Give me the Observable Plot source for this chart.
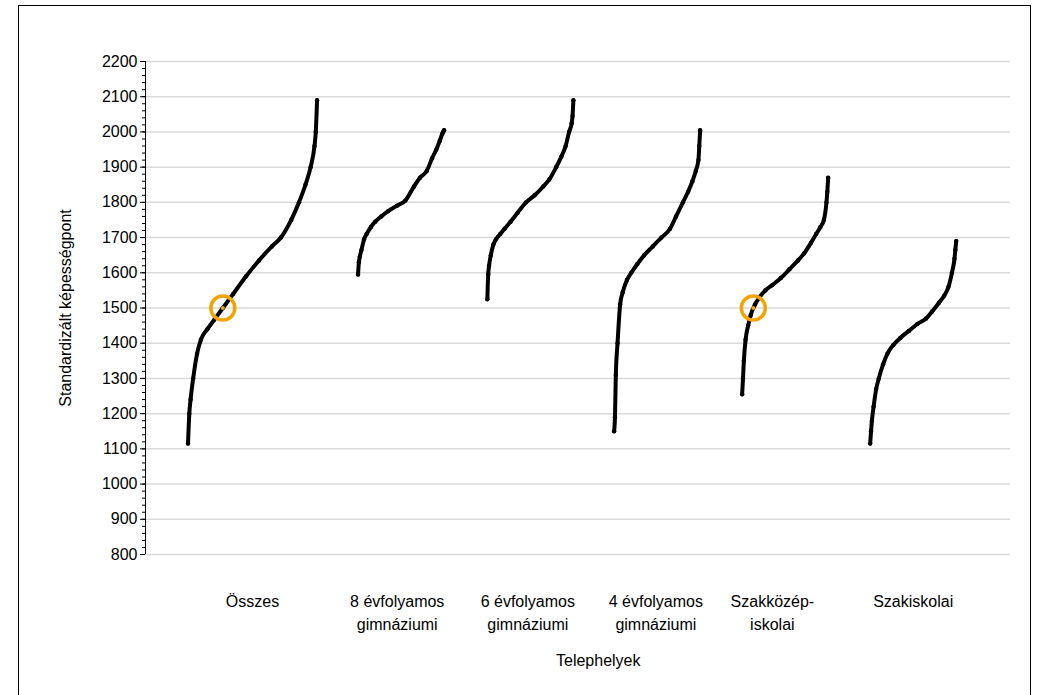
<!DOCTYPE html>
<html>
<head>
<meta charset="utf-8">
<script src="https://cdn.jsdelivr.net/npm/d3@7"></script>
<script src="https://cdn.jsdelivr.net/npm/@observablehq/plot@0.6"></script>
<style>
  body { margin: 0; background: #fff; font-family: "Liberation Sans", Arial, sans-serif; }
  #frame { position: absolute; left: 18px; top: 5px; width: 1011px; height: 700px; border: 1px solid #000; border-bottom: none; }
</style>
</head>
<body>
<div id="frame"><div id="chart"></div></div>
<script>
const categories = ["Összes", "8 évfolyamos\ngimnáziumi", "6 évfolyamos\ngimnáziumi", "4 évfolyamos\ngimnáziumi", "Szakközép-\niskolai", "Szakiskolai"];
// rank share of each read point within a group
const fractions = [0, .01, .02, .04, .07, .1, .15, .2, .27, .35, .45, .55, .65, .72, .8, .86, .91, .95, .98, .99, 1];
const osszes = [1115, 1200, 1240, 1300, 1370, 1410, 1440, 1465, 1500, 1540, 1590, 1635, 1675, 1700, 1750, 1800, 1850, 1900, 1960, 2000, 2090];
const gimn8 = [1595, 1630, 1645, 1665, 1695, 1710, 1730, 1745, 1760, 1775, 1790, 1805, 1845, 1870, 1890, 1925, 1950, 1975, 1995, 2000, 2005];
const gimn6 = [1525, 1595, 1620, 1650, 1680, 1695, 1710, 1725, 1745, 1770, 1800, 1820, 1845, 1865, 1900, 1930, 1960, 2000, 2025, 2045, 2090];
const gimn4 = [1150, 1190, 1310, 1400, 1510, 1545, 1580, 1600, 1625, 1650, 1675, 1700, 1725, 1760, 1800, 1830, 1860, 1890, 1920, 1960, 2005];
const szakkozep = [1255, 1300, 1350, 1410, 1450, 1480, 1510, 1530, 1550, 1565, 1585, 1610, 1635, 1655, 1685, 1710, 1730, 1750, 1800, 1830, 1870];
const szakiskola = [1115, 1150, 1180, 1220, 1270, 1300, 1340, 1370, 1395, 1415, 1435, 1455, 1470, 1490, 1515, 1535, 1560, 1600, 1640, 1665, 1690];
const series = [osszes, gimn8, gimn6, gimn4, szakkozep, szakiskola];
// marked 1500-point positions: [group, rank share, value]
const markers = [[0, 0.27, 1500], [4, 0.13, 1500]];

const centers = [0, 1.16, 2.17, 3.16, 4.16, 5.16];
const halfWidths = [0.504, 0.336, 0.336, 0.336, 0.336, 0.336];
const labelPos = [0, 1.13, 2.15, 3.15, 4.06, 5.16];
const px = (g, f) => centers[g] - halfWidths[g] + 2 * halfWidths[g] * f;
const xMin = -0.836;

const points = series.flatMap((vals, g) => vals.map((v, i) => ({g, x: px(g, fractions[i]), y: v})));
const marks = markers.map(([g, f, v]) => ({x: px(g, f), y: v}));

const chart = Plot.plot({
  width: 1010,
  height: 690,
  marginLeft: 126,
  marginTop: 55,
  marginBottom: 142,
  marginRight: 19,
  style: {fontFamily: "Liberation Sans, Arial, sans-serif", fontSize: "16px", color: "#000"},
  x: {domain: [xMin, 5.92], axis: null},
  y: {domain: [800, 2200], axis: null},
  marks: [
    Plot.gridY(d3.range(800, 2201, 100), {stroke: "#d9d9d9", strokeOpacity: 1, strokeWidth: 1.5}),
    Plot.ruleX([xMin], {y1: 800, y2: 2200, stroke: "#000"}),
    Plot.axisY(d3.range(800, 2201, 20), {tickSize: 3, tickFormat: () => "", label: null, stroke: "#000"}),
    Plot.axisY(d3.range(800, 2201, 100), {tickSize: 5, tickPadding: 3, fontSize: 16, tickFormat: d => String(d), label: null}),
    Plot.text(["Standardizált képességpont"], {x: xMin, y: 1500, rotate: -90, dx: -80, fontSize: 16}),
    Plot.line(points, {x: "x", y: "y", z: "g", stroke: "#000", strokeWidth: 4, curve: "monotone-x"}),
    Plot.dot(points, {x: "x", y: "y", r: 2.2, fill: "#000"}),
    Plot.dot(marks, {x: "x", y: "y", r: 12, stroke: "#f5a300", strokeWidth: 3.5}),
    Plot.dot(marks, {x: "x", y: "y", r: 2, fill: "#f5a300"}),
    Plot.text(categories, {x: (d, i) => labelPos[i], y: 800, dy: 37, lineAnchor: "top", fontSize: 16, lineHeight: 1.4}),
    Plot.text(["Telephelyek"], {x: 2.7, y: 800, dy: 106, fontSize: 16})
  ]
});
document.getElementById("chart").append(chart);
</script>
</body>
</html>
